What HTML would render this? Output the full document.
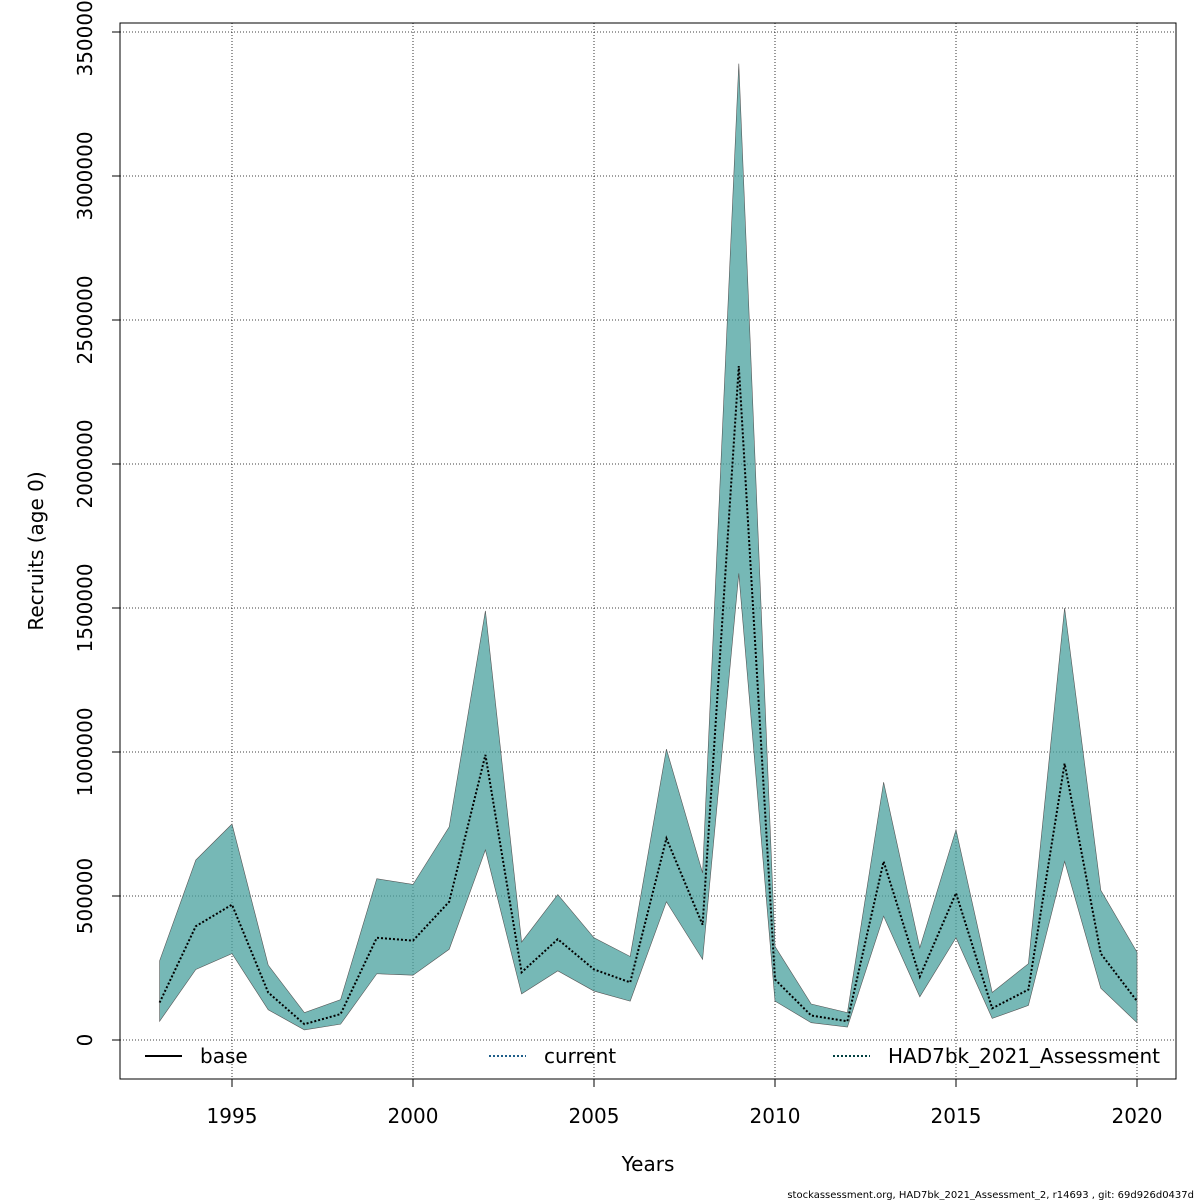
<!DOCTYPE html>
<html><head><meta charset="utf-8"><style>
body{margin:0;background:#fff;}
svg{display:block;font-family:"DejaVu Sans","Liberation Sans",sans-serif;}
</style></head><body>
<svg id="chart" width="1200" height="1200" viewBox="0 0 1200 1200"></svg>
<script>
const years=[1993,1994,1995,1996,1997,1998,1999,2000,2001,2002,2003,2004,2005,2006,2007,2008,2009,2010,2011,2012,2013,2014,2015,2016,2017,2018,2019,2020];
const recruits=[130000,395000,470000,165000,55000,90000,355000,345000,480000,990000,235000,350000,245000,200000,700000,400000,2340000,210000,85000,65000,620000,220000,510000,110000,175000,960000,300000,135000];
const lower=[65000,245000,300000,105000,35000,55000,230000,225000,315000,660000,160000,240000,170000,135000,480000,280000,1620000,135000,60000,45000,430000,150000,355000,75000,120000,620000,180000,60000];
const upper=[275000,625000,750000,260000,95000,140000,560000,540000,740000,1490000,340000,505000,355000,290000,1010000,580000,3390000,325000,125000,95000,895000,320000,730000,165000,265000,1500000,520000,305000];
const xTicks=[1995,2000,2005,2010,2015,2020];
const yTicks=[0,500000,1000000,1500000,2000000,2500000,3000000,3500000];
const legendLabels=["base","current","HAD7bk_2021_Assessment"];

const NS="http://www.w3.org/2000/svg";
const svg=document.getElementById('chart');
const X=y=>159.6+(y-1993)*(1137-159.6)/27;
const Y=v=>1040-v*(1040-32)/3500000;
function mk(tag,attrs,parent){const e=document.createElementNS(NS,tag);for(const k in attrs)e.setAttribute(k,attrs[k]);(parent||svg).appendChild(e);return e;}

xTicks.forEach(t=>{const l=mk('line',{x1:X(t),x2:X(t),y1:23,y2:1079,stroke:'#000','stroke-width':0.8,'stroke-dasharray':'1,2'});

});
yTicks.forEach(t=>{const l=mk('line',{x1:120,x2:1176,y1:Y(t),y2:Y(t),stroke:'#000','stroke-width':0.8,'stroke-dasharray':'1,2'});

});

let pts=years.map((y,i)=>X(y)+','+Y(upper[i]));
for(let i=years.length-1;i>=0;i--)pts.push(X(years[i])+','+Y(lower[i]));
const band=mk('polygon',{points:pts.join(' '),fill:'#48a09e','fill-opacity':0.75,stroke:'#555','stroke-width':0.6});



const line=mk('polyline',{points:years.map((y,i)=>X(y)+','+Y(recruits[i])).join(' '),fill:'none',stroke:'#000','stroke-width':2,'stroke-dasharray':'2,2'});



const box=mk('rect',{x:120,y:23,width:1056,height:1056,fill:'none',stroke:'#000','stroke-width':1});



xTicks.forEach(t=>{mk('line',{x1:X(t),x2:X(t),y1:1079,y2:1087,stroke:'#000'});
const tx=mk('text',{x:X(t),y:1123,'text-anchor':'middle','font-size':20});tx.textContent=t;

});
yTicks.forEach(t=>{mk('line',{x1:112,x2:120,y1:Y(t),y2:Y(t),stroke:'#000'});
const tx=mk('text',{x:0,y:0,'text-anchor':'middle','font-size':20,transform:`translate(92,${Y(t)}) rotate(-90)`});tx.textContent=t;

});

const xt=mk('text',{x:648,y:1171,'text-anchor':'middle','font-size':20});xt.textContent='Years';


const yt=mk('text',{x:0,y:0,'text-anchor':'middle','font-size':20,transform:'translate(43,551) rotate(-90)'});yt.textContent='Recruits (age 0)';



const lx=[145,489,833],ls=['none','2,2','2,2'],lc=['#000','#1f5f8a','#004040'];
legendLabels.forEach((lab,i)=>{const g=mk('g',{});


mk('line',{x1:lx[i],x2:lx[i]+37,y1:1056,y2:1056,stroke:lc[i],'stroke-width':2,'stroke-dasharray':ls[i]},g);
const t=mk('text',{x:lx[i]+55,y:1063,'font-size':20},g);t.textContent=lab;});

const ft=mk('text',{x:1194,y:1198,'text-anchor':'end','font-size':10});ft.textContent='stockassessment.org, HAD7bk_2021_Assessment_2, r14693 , git: 69d926d0437d';


</script>
</body></html>
